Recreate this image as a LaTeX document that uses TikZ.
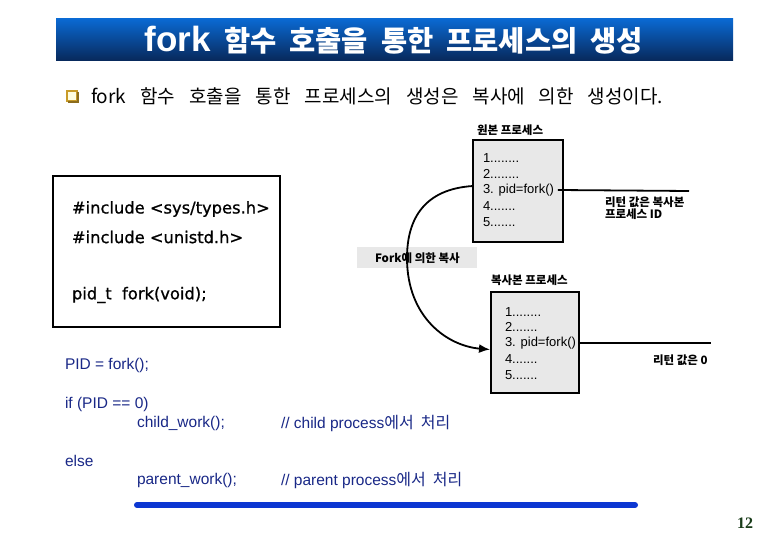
\documentclass[tikz,border=0pt]{standalone}
\usepackage{fontspec}
\setmainfont{Liberation Sans}
\newfontfamily\kr{Noto Sans CJK KR}
\newfontfamily\dejavu[FakeBold=0.9]{DejaVu Sans}
\newfontfamily\pgserif{Liberation Serif}
\usetikzlibrary{arrows.meta,calc}
\definecolor{codeblue}{RGB}{25,40,135}
\definecolor{barblue}{RGB}{12,55,210}
\definecolor{boxgray}{RGB}{232,232,232}
\definecolor{titletop}{RGB}{10,105,210}
\definecolor{titlebot}{RGB}{8,40,90}
\definecolor{pgnum}{RGB}{25,60,25}
\definecolor{bulletgold}{RGB}{200,155,40}
\begin{document}
\begin{tikzpicture}[x=1pt,y=-1pt,
  every node/.style={inner sep=0pt, outer sep=0pt},
  procbox/.style={draw=black, line width=1.7pt, fill=boxgray, anchor=north west},
  smalllbl/.style={font=\kr\bfseries\fontsize{11.5}{13}\selectfont, anchor=west, align=left},
  procline/.style={font=\fontsize{13}{15}\selectfont, anchor=west},
  cline/.style={font=\dejavu\fontsize{16.3}{19}\selectfont, anchor=west},
  bluecode/.style={font=\fontsize{15.5}{18}\selectfont, text=codeblue, anchor=west},
  conn/.style={line width=1.8pt}
  ]
\useasboundingbox (0,0) rectangle (780,540);
\fill[white] (0,0) rectangle (780,540);

% title bar
\shade[top color=titletop, bottom color=titlebot] (56,19) rectangle (733,61);
\node[text=white, font=\bfseries] (title) at (394,40)
  {\fontsize{35}{36}\selectfont fork{\spaceskip=13pt\relax\kr\fontsize{28.5}{30}\selectfont{} 함수 호출을 통한 프로세스의 생성}};

% bullet line
\node[draw=bulletgold, line width=1.5pt, fill=yellow!12, minimum width=10, minimum height=10, anchor=center] (bul) at (72,96) {};
\draw[bulletgold!70!black, line width=1.2pt] ($(bul.south west)+(1,1)$) -- ($(bul.south east)+(1,1)$) -- ($(bul.north east)+(1,1)$);
\node[font=\kr\fontsize{19}{21}\selectfont, anchor=west] (intro) at (91,96)
  {\spaceskip=14pt\relax fork 함수 호출을 통한 프로세스의 생성은 복사에 의한 생성이다.};

% left code box
\node[draw=black, line width=1.3pt, minimum width=227, minimum height=151, anchor=north west] (cbox) at (53,176) {};
\node[cline] (inc1) at (72,209) {\#include <sys/types.h>};
\node[cline] (inc2) at (72,237) {\#include <unistd.h>};
\node[cline] (proto) at (72,295) {pid\_t\ \ fork(void);};

% parent process
\node[smalllbl] (plbl) at (477,130) {원본 프로세스};
\node[procbox, minimum width=90, minimum height=102] (p) at (473,140) {};
\node[procline] (p1) at (483,158) {1........};
\node[procline] (p2) at (483,174) {2........};
\node[procline] (p3) at (483,190) {3. pid=fork()};
\node[procline] (p4) at (483,206) {4.......};
\node[procline] (p5) at (483,222) {5.......};
\coordinate (pr) at (689,191);
\draw[conn] ([xshift=4pt]p3.east) -- (pr);
\node[smalllbl] (pret) at (605,208) {리턴 값은 복사본\\[-1pt]프로세스 ID};

% fork label
\node[fill=boxgray, minimum width=120, minimum height=21, anchor=west] (flbox) at (357,258) {};
\node[smalllbl] (flbl) at (375,258) {Fork에 의한 복사};

% child process
\node[smalllbl] (clbl) at (491,280) {복사본 프로세스};
\node[procbox, minimum width=88, minimum height=101] (c) at (491,292) {};
\node[procline] (c1) at (505,312) {1........};
\node[procline] (c2) at (505,327) {2.......};
\node[procline] (c3) at (505,343) {3. pid=fork()};
\node[procline] (c4) at (505,359) {4.......};
\node[procline] (c5) at (505,375) {5.......};
\coordinate (cr) at (711,343);
\draw[conn] ([xshift=4pt]c3.east) -- (cr);
\node[smalllbl] (cret) at (653,360) {리턴 값은 0};

% fork curve
\draw[conn, -{Latex[length=11pt,width=9pt]}]
  ($(p.west)+(0,-5)$) .. controls (425,189) and (407,218) .. (407,258)
  .. controls (407,318) and (448,346) .. ($(c.west)+(-1,7)$);

% blue code
\node[bluecode] (b1) at (65,365) {PID = fork();};
\node[bluecode] (b2) at (65,404) {if (PID == 0)};
\node[bluecode] (b3) at (137,423) {child\_work();};
\node[bluecode] (b4) at (281,423) {// child process{\spaceskip=7pt\relax\kr\fontsize{16}{18}\selectfont 에서 처리}};
\node[bluecode] (b5) at (65,461) {else};
\node[bluecode] (b6) at (137,480) {parent\_work();};
\node[bluecode] (b7) at (281,480) {// parent process{\spaceskip=7pt\relax\kr\fontsize{16}{18}\selectfont 에서 처리}};

% blue bar
\draw[barblue, line width=6pt, line cap=round] (137,505) -- (635,505);

% page number
\node[font=\pgserif\bfseries\fontsize{16}{18}\selectfont, text=pgnum] (pg) at (745,523) {12};
\end{tikzpicture}
\end{document}
